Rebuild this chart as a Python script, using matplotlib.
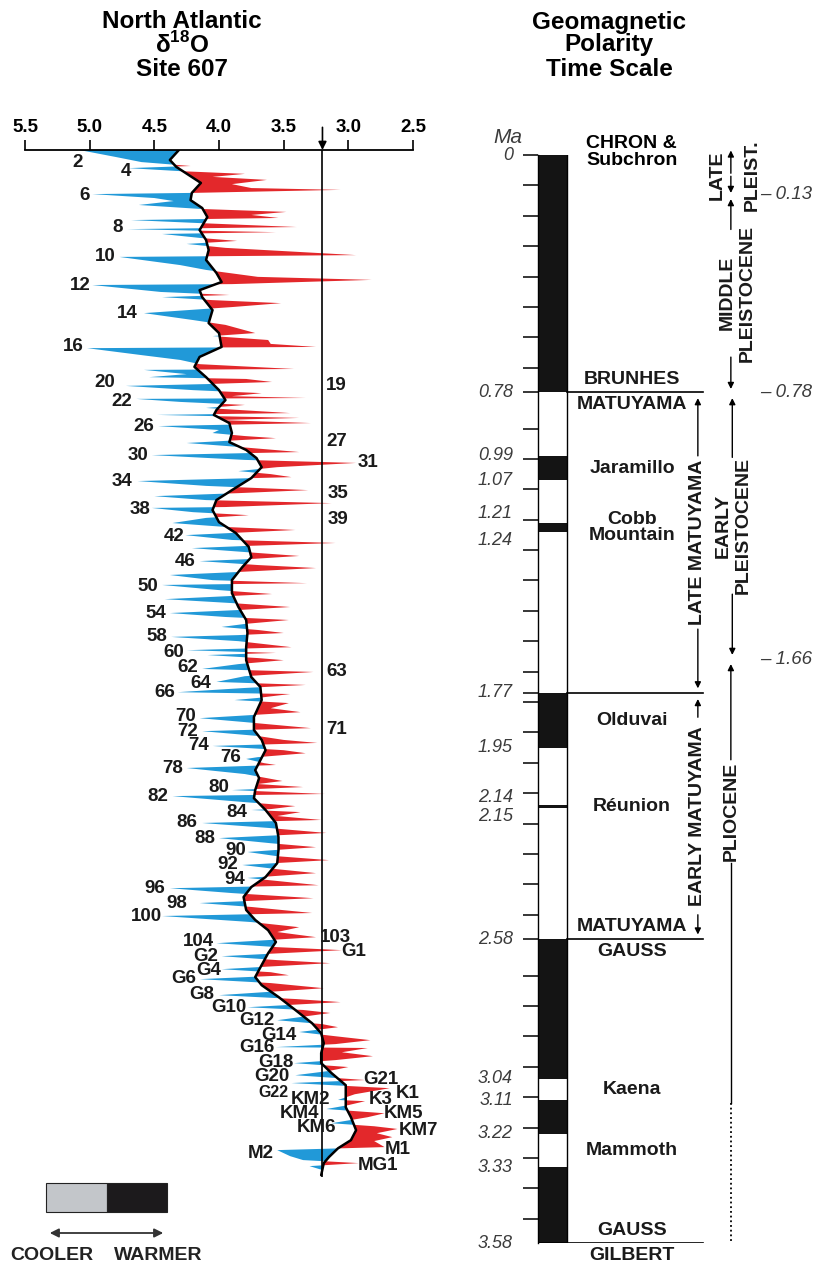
import numpy as np
import matplotlib
matplotlib.use('Agg')
import matplotlib.pyplot as plt
from matplotlib.patches import Rectangle, FancyArrowPatch

plt.rcParams['font.family'] = ['Liberation Sans', 'DejaVu Sans']
plt.rcParams['mathtext.fontset'] = 'custom'
plt.rcParams['mathtext.rm'] = 'Liberation Sans'
plt.rcParams['mathtext.bf'] = 'Liberation Sans:bold'

BLUE = '#2199d8'
RED = '#e3282b'

# ---- North Atlantic d18O, Site 607 (age ka, d18O per mil)
raw_pts = [
    (0, 5.08), (23, 4.80), (40, 4.60), (53, 4.22), (60, 4.70), (70, 4.30), (79, 3.80), (89, 4.05),
    (99, 3.63), (113, 3.90), (126, 3.75), (132, 3.06), (142, 4.20), (146, 4.98), (159, 4.50),
    (169, 4.35), (182, 4.62), (195, 4.15), (205, 3.48), (215, 3.75), (225, 3.54), (232, 4.68),
    (242, 4.15), (255, 3.40), (262, 4.71), (268, 4.05), (272, 3.56), (278, 4.44), (291, 4.15),
    (301, 3.86), (311, 4.25), (324, 3.95), (348, 2.94), (354, 4.77), (381, 4.30), (397, 4.10),
    (420, 3.70), (430, 2.82), (444, 3.90), (447, 4.98), (470, 4.45), (480, 3.92), (487, 4.44),
    (497, 4.05), (507, 3.52), (520, 3.90), (540, 4.58), (563, 4.20), (579, 3.95), (606, 3.72),
    (616, 4.05), (629, 3.62), (642, 3.60), (652, 3.25), (656, 5.02), (679, 4.60), (695, 4.30),
    (709, 4.15), (725, 3.42), (728, 4.58), (742, 4.25), (752, 4.54), (758, 3.79), (768, 3.59),
    (775, 4.10), (781, 4.72), (795, 4.20), (805, 3.67), (815, 3.90), (821, 3.33), (824, 4.64),
    (834, 4.30), (844, 3.80), (854, 4.10), (871, 3.45), (877, 4.48), (887, 3.38), (894, 4.00),
    (904, 3.29), (914, 4.47), (927, 4.00), (937, 4.05), (947, 3.80), (954, 3.56), (970, 4.25),
    (983, 3.85), (1000, 3.38), (1010, 4.52), (1026, 3.80), (1036, 2.94), (1050, 3.55), (1063, 3.85),
    (1073, 3.60), (1083, 3.44), (1096, 4.63), (1112, 4.10), (1126, 3.31), (1136, 3.85), (1146, 4.50),
    (1159, 4.10), (1169, 3.13), (1182, 3.95), (1185, 4.52), (1199, 4.20), (1209, 3.77), (1218, 4.10),
    (1235, 4.36), (1248, 3.95), (1258, 3.41), (1275, 4.26), (1291, 3.90), (1301, 3.10), (1311, 3.80),
    (1318, 4.21), (1331, 3.80), (1344, 3.38), (1354, 3.75), (1361, 4.15), (1374, 3.70), (1384, 3.25),
    (1397, 3.85), (1407, 4.38), (1424, 4.05), (1434, 3.32), (1440, 4.44), (1457, 4.00), (1470, 3.59),
    (1487, 4.42), (1500, 3.90), (1513, 3.45), (1523, 3.85), (1533, 4.38), (1546, 3.95), (1556, 3.46),
    (1569, 3.80), (1579, 3.98), (1589, 3.70), (1599, 3.50), (1606, 3.85), (1612, 4.37), (1626, 3.85),
    (1646, 3.44), (1656, 4.25), (1665, 3.56), (1672, 4.09), (1682, 3.70), (1689, 3.50), (1702, 3.85),
    (1718, 4.13), (1728, 3.27), (1742, 3.80), (1761, 4.02), (1771, 3.33), (1781, 3.80), (1795, 4.32),
    (1801, 3.45), (1814, 3.70), (1821, 3.88), (1831, 3.46), (1848, 3.60), (1861, 3.37), (1881, 4.15),
    (1894, 3.80), (1914, 3.29), (1924, 4.13), (1940, 3.70), (1953, 3.50), (1963, 3.24), (1973, 4.05),
    (1987, 3.50), (1997, 3.33), (2010, 3.70), (2016, 3.79), (2030, 3.65), (2036, 3.56), (2046, 4.25),
    (2066, 3.80), (2089, 3.51), (2099, 3.70), (2109, 3.35), (2119, 3.90), (2132, 3.18), (2139, 4.36),
    (2159, 3.80), (2172, 3.41), (2182, 3.60), (2185, 3.75), (2192, 3.37), (2205, 3.55), (2218, 3.21),
    (2228, 4.13), (2245, 3.60), (2261, 3.17), (2278, 4.00), (2295, 3.60), (2308, 3.25), (2324, 3.78),
    (2338, 3.55), (2351, 3.15), (2367, 3.82), (2381, 3.55), (2394, 3.25), (2410, 3.78), (2420, 3.55),
    (2434, 3.23), (2444, 4.38), (2460, 3.90), (2477, 3.27), (2493, 4.15), (2506, 3.75), (2526, 3.28),
    (2536, 4.44), (2556, 3.75), (2573, 3.38), (2589, 3.55), (2606, 3.25), (2626, 4.02), (2639, 3.55),
    (2649, 3.05), (2669, 3.98), (2682, 3.55), (2692, 3.14), (2712, 3.98), (2722, 3.60), (2732, 3.46),
    (2745, 4.15), (2758, 3.60), (2775, 3.19), (2798, 4.00), (2811, 3.40), (2821, 3.06), (2838, 3.78),
    (2847, 3.35), (2857, 3.14), (2881, 3.55), (2894, 3.20), (2904, 3.08), (2920, 3.38), (2934, 3.10),
    (2947, 2.83), (2960, 3.10), (2970, 3.56), (2973, 2.85), (2987, 3.05), (3000, 2.81), (3013, 3.10),
    (3023, 3.42), (3036, 3.00), (3049, 3.15), (3063, 3.41), (3079, 2.87), (3089, 3.44), (3106, 2.68),
    (3126, 2.95), (3145, 3.08), (3149, 2.87), (3162, 3.00), (3175, 3.17), (3189, 2.72), (3202, 2.85),
    (3222, 3.13), (3232, 2.80), (3241, 2.62), (3255, 2.78), (3268, 2.66), (3281, 2.80), (3301, 2.72),
    (3311, 3.55), (3331, 3.45), (3344, 3.35), (3354, 2.92), (3364, 3.30), (3377, 3.20),
]

smooth_pts = [
    (0, 4.31), (33, 4.38), (56, 4.33), (109, 4.14), (142, 4.21), (166, 4.22), (192, 4.13), (222, 4.09),
    (265, 4.15), (298, 4.10), (331, 4.08), (364, 4.10), (407, 4.02), (437, 3.98), (464, 4.15),
    (487, 4.13), (530, 4.05), (573, 4.08), (606, 4.00), (652, 3.98), (685, 4.15), (718, 4.19),
    (752, 4.10), (795, 4.00), (828, 3.95), (861, 4.02), (877, 4.04), (904, 3.92), (937, 3.90),
    (967, 3.92), (993, 3.79), (1020, 3.71), (1050, 3.67), (1086, 3.75), (1126, 3.90), (1159, 4.02),
    (1192, 4.05), (1232, 4.00), (1268, 3.87), (1314, 3.77), (1348, 3.75), (1381, 3.82), (1424, 3.90),
    (1467, 3.90), (1513, 3.85), (1556, 3.79), (1599, 3.78), (1646, 3.79), (1689, 3.79), (1745, 3.75),
    (1778, 3.68), (1821, 3.67), (1877, 3.73), (1920, 3.73), (1953, 3.67), (1987, 3.64), (2020, 3.68),
    (2053, 3.72), (2079, 3.69), (2119, 3.72), (2146, 3.73), (2185, 3.64), (2228, 3.56), (2275, 3.54),
    (2318, 3.54), (2361, 3.55), (2407, 3.64), (2440, 3.75), (2473, 3.81), (2516, 3.79), (2549, 3.72),
    (2583, 3.62), (2622, 3.56), (2659, 3.62), (2698, 3.67), (2738, 3.72), (2765, 3.67), (2804, 3.54),
    (2847, 3.41), (2891, 3.28), (2924, 3.21), (2957, 3.19), (2990, 3.21), (3023, 3.21), (3056, 3.13),
    (3096, 3.02), (3136, 3.02), (3169, 3.02), (3202, 2.98), (3245, 2.94), (3278, 2.98), (3305, 3.08),
    (3334, 3.15), (3354, 3.19), (3394, 3.21),
]

# isotope stage labels: (label, d18O position, age ka)
cold_labels = [
    ('2', 5.09, 43), ('4', 4.72, 70), ('6', 5.04, 152), ('8', 4.78, 258), ('10', 4.88, 351),
    ('12', 5.07, 447), ('14', 4.71, 540), ('16', 5.13, 652), ('20', 4.88, 771), ('22', 4.75, 834),
    ('26', 4.58, 914), ('30', 4.63, 1010), ('34', 4.75, 1099), ('38', 4.61, 1189), ('42', 4.35, 1278),
    ('46', 4.26, 1361), ('50', 4.55, 1444), ('54', 4.49, 1533), ('58', 4.48, 1612), ('60', 4.35, 1665),
    ('62', 4.24, 1712), ('64', 4.14, 1765), ('66', 4.42, 1795), ('70', 4.26, 1877), ('72', 4.24, 1924),
    ('74', 4.16, 1973), ('76', 3.91, 2010), ('78', 4.36, 2046), ('80', 4.00, 2109), ('82', 4.47, 2139),
    ('84', 3.86, 2192), ('86', 4.25, 2228), ('88', 4.11, 2278), ('90', 3.87, 2318), ('92', 3.93, 2364),
    ('94', 3.88, 2414), ('96', 4.50, 2444), ('98', 4.33, 2493), ('100', 4.56, 2536), ('104', 4.16, 2622),
    ('G2', 4.10, 2669), ('G4', 4.08, 2715), ('G6', 4.27, 2742), ('G8', 4.13, 2795), ('G10', 3.92, 2838),
    ('G12', 3.71, 2881), ('G14', 3.54, 2930), ('G16', 3.71, 2970), ('G18', 3.56, 3020),
    ('G20', 3.59, 3066), ('G22', 3.58, 3119), ('KM2', 3.29, 3145), ('KM4', 3.38, 3189),
    ('KM6', 3.25, 3235), ('M2', 3.68, 3321),
]
warm_labels = [
    ('19', 3.09, 781), ('27', 3.09, 964), ('31', 2.85, 1036), ('35', 3.08, 1136), ('39', 3.08, 1222),
    ('63', 3.09, 1728), ('71', 3.09, 1917), ('103', 3.10, 2606), ('G1', 2.96, 2655),
    ('G21', 2.75, 3076), ('K1', 2.54, 3122), ('K3', 2.75, 3145), ('KM5', 2.57, 3189),
    ('KM7', 2.46, 3245), ('M1', 2.62, 3308), ('MG1', 2.77, 3363),
]
d18o_ticks = [5.5, 5.0, 4.5, 4.0, 3.5, 3.0, 2.5]
ref_value = 3.2

# ---- Geomagnetic polarity time scale (Ma)
normal_top = [0.0, 0.99, 1.21, 1.77, 2.14, 2.58, 3.11, 3.33]
normal_base = [0.78, 1.07, 1.24, 1.95, 2.15, 3.04, 3.22, 3.58]
age_labels = ['0', '0.78', '0.99', '1.07', '1.21', '1.24', '1.77', '1.95', '2.14', '2.15',
              '2.58', '3.04', '3.11', '3.22', '3.33', '3.58']
chron_names = ['BRUNHES', 'MATUYAMA', 'Jaramillo', 'Cobb\nMountain', 'Olduvai', 'Réunion',
               'MATUYAMA', 'GAUSS', 'Kaena', 'Mammoth', 'GAUSS', 'GILBERT']
chron_ages = [0.78, 0.78, 1.03, 1.225, 1.86, 2.145, 2.58, 2.58, 3.075, 3.275, 3.58, 3.58]
chron_side = ['above', 'below', 'mid', 'mid', 'mid', 'mid', 'above', 'below', 'mid', 'mid', 'above', 'below']
chron_bounds = [0.78, 1.77, 2.58, 3.58]
epoch_bounds = [0.13, 0.78, 1.66]

raw = np.array(raw_pts, dtype=float)
smo = np.array(smooth_pts, dtype=float)
raw_age, raw_val = raw[:, 0] / 1000, raw[:, 1]
smo_age, smo_val = smo[:, 0] / 1000, smo[:, 1]

fig = plt.figure(figsize=(8.25, 12.69), dpi=100)
W, H = 825, 1269

# ================= left panel
ax = fig.add_axes([25 / W, 1 - 1177 / H, 388 / W, 1027 / H])
ax.set_xlim(5.5, 2.5)
ax.set_ylim(3.40, 0)

grid = np.union1d(raw_age, smo_age)
r = np.interp(grid, raw_age, raw_val)
s = np.interp(grid, smo_age, smo_val)
ax.fill_betweenx(grid, r, s, where=r >= s, interpolate=True, color=BLUE, lw=0)
ax.fill_betweenx(grid, r, s, where=r <= s, interpolate=True, color=RED, lw=0)
ax.plot(smo_val, smo_age, color='black', lw=1.8, solid_capstyle='round')
ax.plot([ref_value, ref_value], [0, 3.40], color='black', lw=1.2)
ax.annotate('', xy=(ref_value, 0.0), xytext=(ref_value, -0.075), annotation_clip=False,
            arrowprops=dict(arrowstyle='-|>', color='black', lw=1.2, mutation_scale=12,
                            shrinkA=0, shrinkB=0))

for lab, v, a in cold_labels + warm_labels:
    fs = 11.5 if lab == 'G22' else 13.5
    ax.text(v, a / 1000, lab, ha='center', va='center', fontsize=fs, fontweight='bold',
            color='#1a1a1a', clip_on=False)

for sp in ['left', 'right', 'bottom']:
    ax.spines[sp].set_visible(False)
ax.spines['top'].set_linewidth(1.3)
ax.xaxis.tick_top()
ax.set_xticks(d18o_ticks)
ax.set_xticklabels([f'{t:.1f}' for t in d18o_ticks], fontsize=13.5, fontweight='bold')
ax.tick_params(axis='x', direction='out', length=7, width=1.2, pad=3)
ax.set_yticks([])

for txt, ypx in [('North Atlantic', 21), ('δ$^{\\mathbf{18}}$O', 45), ('Site 607', 69)]:
    fig.text(182 / W, 1 - ypx / H, txt, ha='center', va='center', fontsize=17.5, fontweight='bold')

# legend cooler / warmer
fig.add_artist(Rectangle((46 / W, 1 - 1212 / H), 61 / W, 29 / H, transform=fig.transFigure,
                         facecolor='#c3c6ca', edgecolor='#222', lw=0.8))
fig.add_artist(Rectangle((107 / W, 1 - 1212 / H), 60 / W, 29 / H, transform=fig.transFigure,
                         facecolor='#1c1a1c', edgecolor='#222', lw=0.8))
fig.add_artist(FancyArrowPatch((47 / W, 1 - 1233 / H), (166 / W, 1 - 1233 / H), transform=fig.transFigure,
                               arrowstyle='<|-|>', mutation_scale=13, color='#333', lw=1.3))
fig.text(52 / W, 1 - 1255 / H, 'COOLER', ha='center', va='center', fontsize=14, fontweight='bold', color='#222')
fig.text(158 / W, 1 - 1255 / H, 'WARMER', ha='center', va='center', fontsize=14, fontweight='bold', color='#222')

# ================= right panel
axr = fig.add_axes([538 / W, 1 - 1243 / H, 287 / W, 1088 / H])
axr.set_xlim(0, 1)
axr.set_ylim(3.58, 0)
col_w = 0.101
axr.bar(col_w / 2, np.array(normal_base) - np.array(normal_top), bottom=normal_top,
        width=col_w, color='#141414', lw=0)
axr.plot([col_w, col_w], [0, 3.58], color='black', lw=1)
for b in chron_bounds:
    x0 = 0 if b == 3.58 else col_w
    axr.plot([x0, 0.575], [b, b], color='black', lw=1.2)

for sp in ['top', 'right', 'bottom']:
    axr.spines[sp].set_visible(False)
axr.spines['left'].set_linewidth(1)
ticks = sorted((set(np.round(np.arange(0, 3.55, 0.1), 2)) - {0.8, 2.6}) | {0.78, 1.77, 2.58})
axr.set_yticks(ticks)
axr.tick_params(axis='y', direction='out', length=11, width=1.1, labelleft=False)
axr.set_xticks([])

nudge = {'1.21': -0.03, '1.24': 0.03, '2.14': -0.025, '2.15': 0.025}
for lab in age_labels:
    axr.text(-0.087, float(lab) + nudge.get(lab, 0), lab, ha='right', va='center',
             fontsize=13, style='italic', color='#3c3c3c')
axr.text(-0.105, -0.056, 'Ma', ha='center', va='center', fontsize=15, style='italic', color='#3c3c3c')
axr.text(0.167, -0.01, 'CHRON &\nSubchron', ha='left', va='center', fontsize=14,
         fontweight='bold', linespacing=0.95)

for name, a, side in zip(chron_names, chron_ages, chron_side):
    dy, va = {'above': (3, 'bottom'), 'below': (-3, 'top'), 'mid': (0, 'center')}[side]
    axr.annotate(name, (0.328, a), xytext=(0, dy), textcoords='offset points', ha='center', va=va,
                 fontsize=14, fontweight='bold', color='#1a1a1a', linespacing=0.95)


def arrow(x, y0, y1, style='-|>'):
    axr.annotate('', xy=(x, y1), xytext=(x, y0), annotation_clip=False,
                 arrowprops=dict(arrowstyle=style, color='black', lw=1, mutation_scale=9,
                                 shrinkA=0, shrinkB=0))


def vlabel(x, y, txt):
    axr.text(x, y, txt, rotation=90, ha='center', va='center', fontsize=14,
             fontweight='bold', color='#1a1a1a')


# Matuyama subdivisions
vlabel(0.557, 1.275, 'LATE MATUYAMA')
arrow(0.557, 0.99, 0.80)
arrow(0.557, 1.56, 1.755)
vlabel(0.557, 2.175, 'EARLY MATUYAMA')
arrow(0.557, 1.85, 1.79)
arrow(0.557, 2.50, 2.565)

# epochs
vlabel(0.624, 0.065, 'LATE')
vlabel(0.746, 0.065, 'PLEIST.')
arrow(0.672, 0.06, -0.015)
arrow(0.672, 0.07, 0.125)
vlabel(0.659, 0.455, 'MIDDLE')
vlabel(0.728, 0.455, 'PLEISTOCENE')
arrow(0.672, 0.245, 0.145)
arrow(0.672, 0.665, 0.77)
vlabel(0.645, 1.22, 'EARLY')
vlabel(0.714, 1.22, 'PLEISTOCENE')
arrow(0.677, 0.995, 0.80)
arrow(0.677, 1.445, 1.645)
vlabel(0.672, 2.16, 'PLIOCENE')
arrow(0.672, 1.99, 1.675)
axr.plot([0.672, 0.672], [2.33, 3.12], color='black', lw=1)
axr.plot([0.672, 0.672], [3.12, 3.58], color='black', lw=1.3, ls=(0, (1, 1.6)))
for b in epoch_bounds:
    axr.text(0.774, b, f'– {b:.2f}', ha='left', va='center', fontsize=13.5, style='italic',
             color='#3c3c3c')

for txt, ypx in [('Geomagnetic', 22), ('Polarity', 45), ('Time Scale', 69)]:
    fig.text(609 / W, 1 - ypx / H, txt, ha='center', va='center', fontsize=17.5, fontweight='bold')

fig.savefig('out.png', dpi=100)
